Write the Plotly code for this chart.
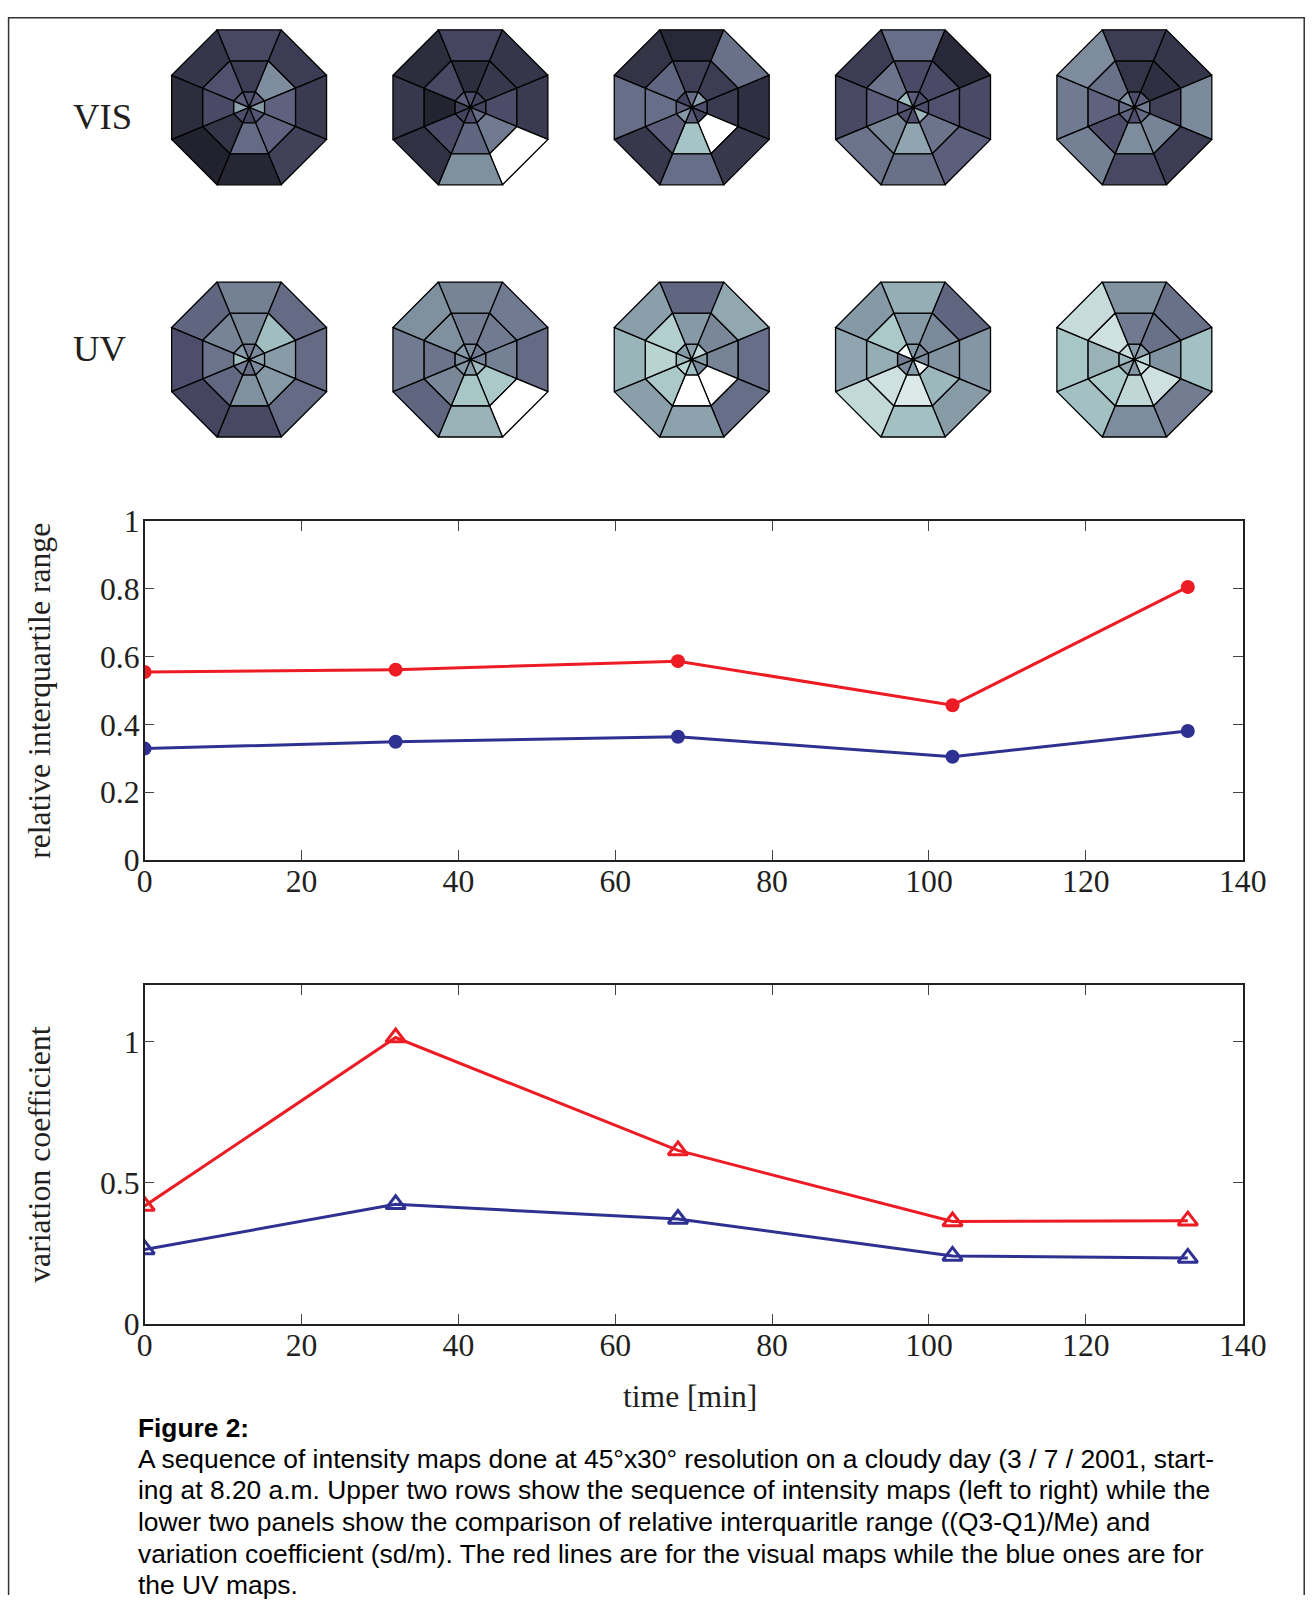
import numpy as np
import plotly.graph_objects as go
from plotly.colors import sample_colorscale

# ---------------- data ----------------
time_min = [0, 32, 68, 103, 133]
iqr_vis = [0.555, 0.562, 0.587, 0.457, 0.806]
iqr_uv = [0.329, 0.349, 0.364, 0.305, 0.381]
cv_vis = [0.418, 1.015, 0.615, 0.363, 0.366]
cv_uv = [0.264, 0.424, 0.372, 0.241, 0.234]

x_ticks = [0, 20, 40, 60, 80, 100, 120, 140]
iqr_ticks = [0, 0.2, 0.4, 0.6, 0.8, 1]
iqr_tick_text = ["0", "0.2", "0.4", "0.6", "0.8", "1"]
cv_ticks = [0, 0.5, 1]
cv_tick_text = ["0", "0.5", "1"]

row_labels = ["VIS", "UV"]
# sector order (clockwise from north): N, NE, E, SE, S, SW, W, NW
sector_names = ["N", "NE", "E", "SE", "S", "SW", "W", "NW"]
ring_edges = [0.0, 0.2, 0.6, 1.0]   # inner / middle / outer ring (fraction of map radius)

vis_inner = [
    [0.35, 0.40, 0.60, 0.38, 0.30, 0.35, 0.62, 0.40],
    [0.35, 0.30, 0.30, 0.45, 0.35, 0.30, 0.28, 0.40],
    [0.45, 0.62, 0.35, 0.30, 0.40, 0.60, 0.40, 0.30],
    [0.40, 0.35, 0.35, 0.70, 0.35, 0.35, 0.38, 0.72],
    [0.35, 0.40, 0.50, 0.45, 0.35, 0.42, 0.45, 0.58],
]
vis_middle = [
    [0.27, 0.56, 0.42, 0.42, 0.45, 0.23, 0.33, 0.36],
    [0.20, 0.25, 0.34, 0.50, 0.43, 0.33, 0.16, 0.32],
    [0.28, 0.27, 0.26, 1.00, 0.74, 0.40, 0.46, 0.43],
    [0.33, 0.33, 0.36, 0.48, 0.64, 0.53, 0.40, 0.48],
    [0.23, 0.21, 0.28, 0.53, 0.56, 0.34, 0.42, 0.47],
]
vis_outer = [
    [0.32, 0.27, 0.26, 0.29, 0.17, 0.15, 0.20, 0.24],
    [0.31, 0.24, 0.26, 1.00, 0.57, 0.22, 0.25, 0.20],
    [0.18, 0.47, 0.21, 0.25, 0.46, 0.25, 0.46, 0.23],
    [0.46, 0.18, 0.33, 0.41, 0.47, 0.48, 0.32, 0.27],
    [0.27, 0.24, 0.55, 0.27, 0.32, 0.52, 0.50, 0.56],
]
uv_inner = [
    [0.50, 0.55, 0.62, 0.55, 0.45, 0.50, 0.72, 0.60],
    [0.55, 0.50, 0.52, 0.70, 0.60, 0.60, 0.55, 0.60],
    [0.62, 0.82, 0.60, 0.55, 0.72, 0.80, 0.70, 0.60],
    [0.60, 0.55, 0.55, 0.95, 0.60, 0.55, 0.50, 0.98],
    [0.60, 0.62, 0.80, 0.85, 0.58, 0.65, 0.70, 0.85],
]
uv_middle = [
    [0.53, 0.72, 0.61, 0.60, 0.57, 0.44, 0.48, 0.53],
    [0.51, 0.50, 0.52, 0.76, 0.75, 0.54, 0.48, 0.57],
    [0.60, 0.54, 0.53, 1.00, 1.00, 0.76, 0.80, 0.78],
    [0.60, 0.55, 0.58, 0.70, 0.90, 0.86, 0.67, 0.76],
    [0.50, 0.47, 0.58, 0.86, 0.82, 0.76, 0.68, 0.86],
]
uv_outer = [
    [0.52, 0.45, 0.45, 0.45, 0.32, 0.31, 0.35, 0.43],
    [0.53, 0.50, 0.45, 1.00, 0.68, 0.43, 0.50, 0.57],
    [0.43, 0.65, 0.46, 0.46, 0.63, 0.62, 0.69, 0.62],
    [0.67, 0.43, 0.59, 0.61, 0.73, 0.83, 0.64, 0.60],
    [0.58, 0.47, 0.73, 0.51, 0.56, 0.73, 0.75, 0.84],
]

caption_title = "Figure 2:"
caption_lines = [
    "A sequence of intensity maps done at 45°x30° resolution on a cloudy day (3 / 7 / 2001, start-",
    "ing at 8.20 a.m. Upper two rows show the sequence of intensity maps (left to right) while the",
    "lower two panels show the comparison of relative interquaritle range ((Q3-Q1)/Me) and",
    "variation coefficient (sd/m). The red lines are for the visual maps while the blue ones are for",
    "the UV maps.",
]

# ---------------- styles ----------------
RED = "#ed1c24"
BLUE = "#2e3192"
AXC = "#231f20"
SERIF = "Liberation Serif, Times New Roman, serif"
SANS = "Liberation Sans, Arial, sans-serif"

# MATLAB-like "bone" colour map
bone = [[0.0, "rgb(0,0,0)"], [0.375, "rgb(84,84,116)"],
        [0.75, "rgb(167,199,199)"], [1.0, "rgb(255,255,255)"]]

# page geometry observed for the photographed page (css px -> image px)
SX, SY = 0.9763, 0.9786
OX, OY = 8, 16
FIG_W, FIG_H = 1329, 1613


def fx(p):
    """target image x (px) -> paper fraction"""
    return (p / SX - OX) / FIG_W


def fy(p):
    """target image y (px) -> paper fraction"""
    return 1 - (p / SY - OY) / FIG_H


fig = go.Figure()

# ---------------- octagonal intensity maps ----------------
map_cx0, map_dx = 249.0, 221.4
row_cy = [106.0, 358.3]
apothem = 77.5
R = apothem / np.cos(np.radians(22.5))
MAP_BOTTOM = 460

rows = [(vis_inner, vis_middle, vis_outer), (uv_inner, uv_middle, uv_outer)]
for ri, rings in enumerate(rows):
    cy = row_cy[ri]
    for mi in range(5):
        cx = map_cx0 + mi * map_dx
        for ring in range(3):
            r0, r1 = ring_edges[ring] * R, ring_edges[ring + 1] * R
            vals = rings[ring][mi]
            cols = sample_colorscale(bone, vals)
            for k in range(8):
                a = np.radians(90 - 45 * k)
                t0, t1 = a - np.radians(22.5), a + np.radians(22.5)
                xs = [cx + r1 * np.cos(t0), cx + r1 * np.cos(t1),
                      cx + r0 * np.cos(t1), cx + r0 * np.cos(t0)]
                ys = [cy - r1 * np.sin(t0), cy - r1 * np.sin(t1),
                      cy - r0 * np.sin(t1), cy - r0 * np.sin(t0)]
                xs.append(xs[0]); ys.append(ys[0])
                fig.add_trace(go.Scatter(
                    x=xs, y=ys, mode="lines", fill="toself",
                    fillcolor=cols[k], line=dict(color="black", width=1.3),
                    xaxis="x3", yaxis="y3", showlegend=False, hoverinfo="skip"))
        fig.add_trace(go.Scatter(x=[cx], y=[cy], mode="markers",
                                 marker=dict(color="black", size=4),
                                 xaxis="x3", yaxis="y3", showlegend=False,
                                 hoverinfo="skip"))

# ---------------- line charts ----------------
LW = 3
fig.add_trace(go.Scatter(x=time_min, y=iqr_vis, mode="lines+markers",
                         line=dict(color=RED, width=LW),
                         marker=dict(symbol="circle", size=14, color=RED),
                         xaxis="x", yaxis="y", showlegend=False, name="VIS"))
fig.add_trace(go.Scatter(x=time_min, y=iqr_uv, mode="lines+markers",
                         line=dict(color=BLUE, width=LW),
                         marker=dict(symbol="circle", size=14, color=BLUE),
                         xaxis="x", yaxis="y", showlegend=False, name="UV"))
fig.add_trace(go.Scatter(x=time_min, y=cv_vis, mode="lines+markers",
                         line=dict(color=RED, width=LW),
                         marker=dict(symbol="triangle-up-open", size=17, color=RED,
                                     line=dict(width=3)),
                         xaxis="x2", yaxis="y2", showlegend=False, name="VIS"))
fig.add_trace(go.Scatter(x=time_min, y=cv_uv, mode="lines+markers",
                         line=dict(color=BLUE, width=LW),
                         marker=dict(symbol="triangle-up-open", size=17, color=BLUE,
                                     line=dict(width=3)),
                         xaxis="x2", yaxis="y2", showlegend=False, name="UV"))

ax_left, ax_right = 144.5, 1243
c1_top, c1_bot = 520, 859
c2_top, c2_bot = 984.3, 1323
TICK_FS = 31.7

common_x = dict(range=[0, 140], tickvals=x_ticks, ticks="inside", ticklen=10,
                tickwidth=1.2, tickcolor="#444", showline=True, linecolor=AXC,
                linewidth=1.5, mirror="ticks", showgrid=False, zeroline=False,
                ticklabelstandoff=-8,
                tickfont=dict(family=SERIF, size=TICK_FS, color=AXC),
                domain=[fx(ax_left), fx(ax_right)])
common_y = dict(ticks="inside", ticklen=10, tickwidth=1.2, tickcolor="#444",
                showline=True, linecolor=AXC, linewidth=1.5, mirror="ticks",
                showgrid=False, zeroline=False, ticklabelstandoff=-3,
                tickfont=dict(family=SERIF, size=TICK_FS, color=AXC))

fig.update_layout(
    width=FIG_W, height=FIG_H, margin=dict(l=0, r=0, t=0, b=0),
    paper_bgcolor="white", plot_bgcolor="white",
    xaxis=dict(anchor="y", **common_x),
    yaxis=dict(anchor="x", range=[0, 1], tickvals=iqr_ticks, ticktext=iqr_tick_text,
               domain=[fy(c1_bot), fy(c1_top)], **common_y),
    xaxis2=dict(anchor="y2", **common_x),
    yaxis2=dict(anchor="x2", range=[0, 1.2], tickvals=cv_ticks, ticktext=cv_tick_text,
                domain=[fy(c2_bot), fy(c2_top)], **common_y),
    # map panel: data units equal target image pixels
    xaxis3=dict(anchor="y3", domain=[0, 1], range=[SX * OX, SX * (OX + FIG_W)],
                visible=False),
    yaxis3=dict(anchor="x3", domain=[fy(MAP_BOTTOM), 1], range=[MAP_BOTTOM, SY * OY],
                visible=False),
)

ann = []
for ri, lab in enumerate(row_labels):
    ann.append(dict(x=fx(71), y=fy([115.5, 347.5][ri]), xref="paper", yref="paper",
                    text=lab, showarrow=False, xanchor="left", yanchor="middle",
                    font=dict(family=SERIF, size=36.7, color=AXC)))
ann.append(dict(x=fx(39), y=fy((c1_top + c1_bot) / 2), xref="paper", yref="paper",
                text="relative interquartile range", textangle=-90, showarrow=False,
                xanchor="center", yanchor="middle",
                font=dict(family=SERIF, size=31.7, color=AXC)))
ann.append(dict(x=fx(39), y=fy((c2_top + c2_bot) / 2), xref="paper", yref="paper",
                text="variation coefficient", textangle=-90, showarrow=False,
                xanchor="center", yanchor="middle",
                font=dict(family=SERIF, size=31.8, color=AXC)))
ann.append(dict(x=fx(690), y=fy(1396), xref="paper", yref="paper",
                text="time [min]", showarrow=False, xanchor="center", yanchor="middle",
                font=dict(family=SERIF, size=31.6, color=AXC)))
ann.append(dict(x=fx(135.5), y=fy(1427.5), xref="paper", yref="paper",
                text="<b>" + caption_title + "</b>", showarrow=False,
                xanchor="left", yanchor="middle",
                font=dict(family=SANS, size=26.3, color="black")))
for i, line in enumerate(caption_lines):
    ann.append(dict(x=fx(135.5), y=fy(1458 + i * 31.6), xref="paper", yref="paper",
                    text=line, showarrow=False, xanchor="left", yanchor="middle",
                    font=dict(family=SANS, size=26.4, color="black")))
fig.update_layout(annotations=ann)

# outer frame (open at the bottom, as in the original figure)
xl, xr, yt = 0.6 / FIG_W, 1 - 0.8 / FIG_W, 1 - 0.8 / FIG_H
fig.add_shape(type="path", xref="paper", yref="paper",
              path=f"M {xl},0 L {xl},{yt} L {xr},{yt} L {xr},0",
              line=dict(color="#333", width=1.5))

fig.write_html("out.html")
